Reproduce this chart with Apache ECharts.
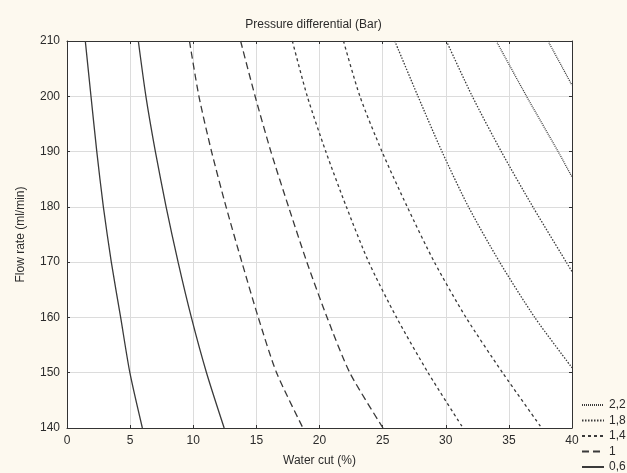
<!DOCTYPE html>
<html>
<head>
<meta charset="utf-8">
<script src="https://cdn.jsdelivr.net/npm/echarts@6/dist/echarts.min.js"></script>
<style>
  html, body { margin: 0; padding: 0; background: #fdf9ef; }
  #chart { width: 627px; height: 473px; }
</style>
</head>
<body>
<div id="chart"></div>
<script>
// contour lines: [water cut %, flow rate ml/min]
const curve06a = [[1.45, 210], [1.9, 200], [2.36, 190], [2.88, 180], [3.51, 170], [4.25, 160], [4.98, 150], [5.97, 140]];
const curve06b = [[5.65, 210], [6.25, 200], [7.0, 190], [7.85, 180], [8.8, 170], [9.85, 160], [11.05, 150], [12.45, 140]];
const curve10a = [[9.7, 210], [10.45, 200], [11.45, 190], [12.6, 180], [13.85, 170], [15.15, 160], [16.6, 150], [18.69, 140]];
const curve10b = [[13.75, 210], [14.9, 200], [16.15, 190], [17.55, 180], [19.0, 170], [20.6, 160], [22.4, 150], [25.03, 140]];
const curve14a = [[17.85, 210], [19.03, 200], [20.5, 190], [22.13, 180], [23.9, 170], [26.1, 160], [28.6, 150], [31.37, 140]];
const curve14b = [[21.9, 210], [23.2, 200], [24.95, 190], [26.95, 180], [29.1, 170], [31.6, 160], [34.5, 150], [37.6, 140]];
const curve18a = [[25.96, 210], [27.8, 200], [29.7, 190], [31.8, 180], [34.27, 170], [37.05, 160], [40, 150.9]];
const curve18b = [[30.05, 210], [32.1, 200], [34.4, 190], [36.9, 180], [40, 168.3]];
const curve22a = [[34.0, 210], [36.4, 200], [38.9, 190], [40, 185.4]];
const curve22b = [[38.1, 210], [40, 202]];

const legendNames = ['2,2', '1,8', '1,4', '1', '0,6'];
const xTicks = { min: 0, max: 40, interval: 5 };
const yTicks = { min: 140, max: 210, interval: 10 };

const lineColor = '#3a3a3a';
const dashFor = {
  '0,6': 'solid',
  '1': [7, 4],
  '1,4': [3, 3],
  '1,8': [1.5, 1.5],
  '2,2': [1, 1]
};

function contour(name, data) {
  return {
    type: 'line',
    name: name,
    data: data,
    smooth: 0.25,
    showSymbol: false,
    symbol: 'none',
    lineStyle: { color: lineColor, width: 1.3, type: dashFor[name] },
    itemStyle: { color: lineColor }
  };
}

const font = 'Liberation Sans';
const txt = '#2b2b2b';

const axisBase = {
  axisLine: { show: true, onZero: false, lineStyle: { color: '#333', width: 1 } },
  axisTick: { show: true, inside: true, length: 3, lineStyle: { color: '#333' } }
};

const chart = echarts.init(document.getElementById('chart'));
chart.setOption({
  backgroundColor: '#fdf9ef',
  animation: false,
  textStyle: { fontFamily: font },
  title: {
    text: 'Pressure differential (Bar)',
    left: 'center',
    top: 14,
    textStyle: { fontSize: 12, fontWeight: 'normal', color: txt, fontFamily: font }
  },
  legend: {
    data: legendNames,
    orient: 'vertical',
    left: 581,
    top: 399,
    padding: 0,
    itemWidth: 22,
    itemHeight: 11,
    itemGap: 3.5,
    itemStyle: { opacity: 0 },
    textStyle: { fontSize: 12, color: txt, fontFamily: font }
  },
  grid: { left: 67, right: 55, top: 41, bottom: 45, backgroundColor: '#ffffff', show: true, borderWidth: 0 },
  xAxis: [
    Object.assign({}, axisBase, {
      type: 'value',
      min: xTicks.min, max: xTicks.max, interval: xTicks.interval,
      position: 'bottom',
      name: 'Water cut (%)',
      nameLocation: 'middle',
      nameGap: 27,
      nameTextStyle: { fontSize: 12, color: txt },
      axisLabel: { fontSize: 12, color: txt, margin: 7 },
      splitLine: { show: true, lineStyle: { color: '#dcdcdc' } }
    }),
    Object.assign({}, axisBase, {
      type: 'value',
      min: xTicks.min, max: xTicks.max, interval: xTicks.interval,
      position: 'top',
      axisLabel: { show: false },
      splitLine: { show: false }
    })
  ],
  yAxis: [
    Object.assign({}, axisBase, {
      type: 'value',
      min: yTicks.min, max: yTicks.max, interval: yTicks.interval,
      position: 'left',
      name: 'Flow rate (ml/min)',
      nameLocation: 'middle',
      nameGap: 40,
      nameTextStyle: { fontSize: 12, color: txt },
      axisLabel: { fontSize: 12, color: txt, margin: 7 },
      splitLine: { show: true, lineStyle: { color: '#dcdcdc' } }
    }),
    Object.assign({}, axisBase, {
      type: 'value',
      min: yTicks.min, max: yTicks.max, interval: yTicks.interval,
      position: 'right',
      axisLabel: { show: false },
      splitLine: { show: false }
    })
  ],
  series: [
    contour('0,6', curve06a),
    contour('0,6', curve06b),
    contour('1', curve10a),
    contour('1', curve10b),
    contour('1,4', curve14a),
    contour('1,4', curve14b),
    contour('1,8', curve18a),
    contour('1,8', curve18b),
    contour('2,2', curve22a),
    contour('2,2', curve22b)
  ]
});
</script>
</body>
</html>
